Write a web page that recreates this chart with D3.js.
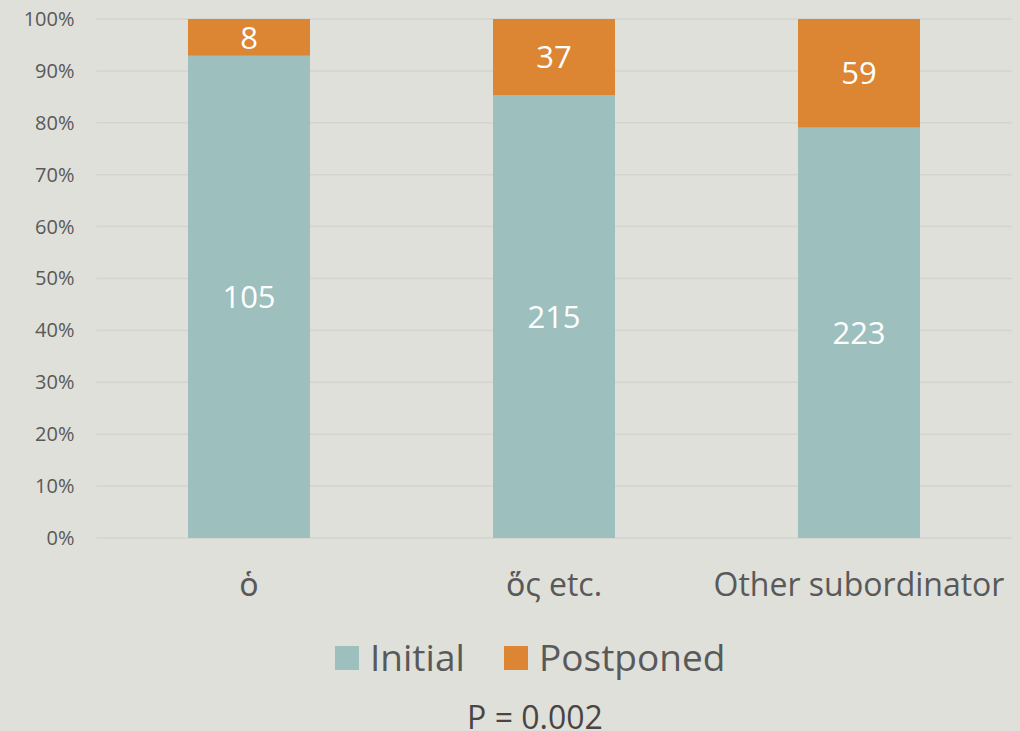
<!DOCTYPE html>
<html>
<head>
<meta charset="utf-8">
<script src="https://cdn.jsdelivr.net/npm/d3@7"></script>
<style>
body { margin:0; background:#dfe0da; }
svg { display:block; font-family:"Open Sans", "Noto Sans", sans-serif; }
</style>
</head>
<body>
<svg id="graph"></svg>
<script>
var categories = ["ὁ", "ὅς etc.", "Other subordinator"];
var initial = [105, 215, 223];
var postponed = [8, 37, 59];
var seriesNames = ["Initial", "Postponed"];
var tickValues = [0, 0.1, 0.2, 0.3, 0.4, 0.5, 0.6, 0.7, 0.8, 0.9, 1];
var pValue = "P = 0.002";

var colors = {Initial:"#9dbfbe", Postponed:"#dc8532"};

var screen = {width:1020, height:731};
var margins = {top:19, bottom:193, left:96.5, right:8.5};
var graph = {
    width:screen.width-margins.left-margins.right,
    height:screen.height-margins.top-margins.bottom
};

var svg = d3.select("#graph")
    .attr("width",screen.width)
    .attr("height",screen.height);

var xScale = d3.scaleBand()
    .domain(categories)
    .range([0,graph.width])
    .paddingInner(0.6)
    .paddingOuter(0.3);

var yScale = d3.scaleLinear()
    .domain([0,1])
    .range([graph.height,0]);

var g = svg.append("g")
    .attr("transform","translate("+margins.left+","+margins.top+")");

// gridlines
g.selectAll("line.grid")
    .data(tickValues)
    .enter()
    .append("line")
    .attr("x1",0)
    .attr("x2",graph.width)
    .attr("y1",function(d){return yScale(d);})
    .attr("y2",function(d){return yScale(d);})
    .attr("stroke","#d3d4cf")
    .attr("stroke-width",1.5);

// y axis
var yAxis = d3.axisLeft(yScale)
    .tickValues(tickValues)
    .tickFormat(d3.format(".0%"))
    .tickSize(0)
    .tickPadding(22);
var ya = g.append("g").call(yAxis);
ya.select(".domain").remove();
ya.selectAll("text")
    .attr("font-size",20)
    .attr("fill","#595959")
    .attr("font-family","'Open Sans', sans-serif");

var stacked = categories.map(function(c,i){
    var total = initial[i]+postponed[i];
    return {cat:c, total:total,
        parts:[
            {name:"Initial", value:initial[i], y0:0, y1:initial[i]/total},
            {name:"Postponed", value:postponed[i], y0:initial[i]/total, y1:1}
        ]};
});

var groups = g.selectAll("g.bar")
    .data(stacked)
    .enter()
    .append("g")
    .attr("transform",function(d){return "translate("+xScale(d.cat)+",0)";});

groups.selectAll("rect")
    .data(function(d){return d.parts;})
    .enter()
    .append("rect")
    .attr("x",0)
    .attr("width",xScale.bandwidth())
    .attr("y",function(p){return yScale(p.y1);})
    .attr("height",function(p){return yScale(p.y0)-yScale(p.y1);})
    .attr("fill",function(p){return colors[p.name];});

groups.selectAll("text")
    .data(function(d){return d.parts;})
    .enter()
    .append("text")
    .attr("x",xScale.bandwidth()/2)
    .attr("y",function(p){return (yScale(p.y0)+yScale(p.y1))/2;})
    .attr("dy","0.36em")
    .attr("text-anchor","middle")
    .attr("font-size",31)
    .attr("fill","#ffffff")
    .text(function(p){return p.value;});

// x axis labels
g.selectAll("text.cat")
    .data(categories)
    .enter()
    .append("text")
    .attr("x",function(d){return xScale(d)+xScale.bandwidth()/2;})
    .attr("y",graph.height+58)
    .attr("text-anchor","middle")
    .attr("font-size",32)
    .attr("fill","#595959")
    .text(function(d){return d;});

// legend
var legend = svg.append("g").attr("transform","translate(0,658)");
var legendX = [335, 504];
seriesNames.forEach(function(n,i){
    legend.append("rect")
        .attr("x",legendX[i])
        .attr("y",-12)
        .attr("width",24)
        .attr("height",24)
        .attr("fill",colors[n]);
    legend.append("text")
        .attr("x",legendX[i]+35)
        .attr("y",0)
        .attr("dy","0.36em")
        .attr("font-size",37)
        .attr("fill","#595959")
        .text(n);
});

svg.append("text")
    .attr("x",535)
    .attr("y",729)
    .attr("text-anchor","middle")
    .attr("font-size",32)
    .attr("fill","#4a4444")
    .text(pValue);
</script>
</body>
</html>
